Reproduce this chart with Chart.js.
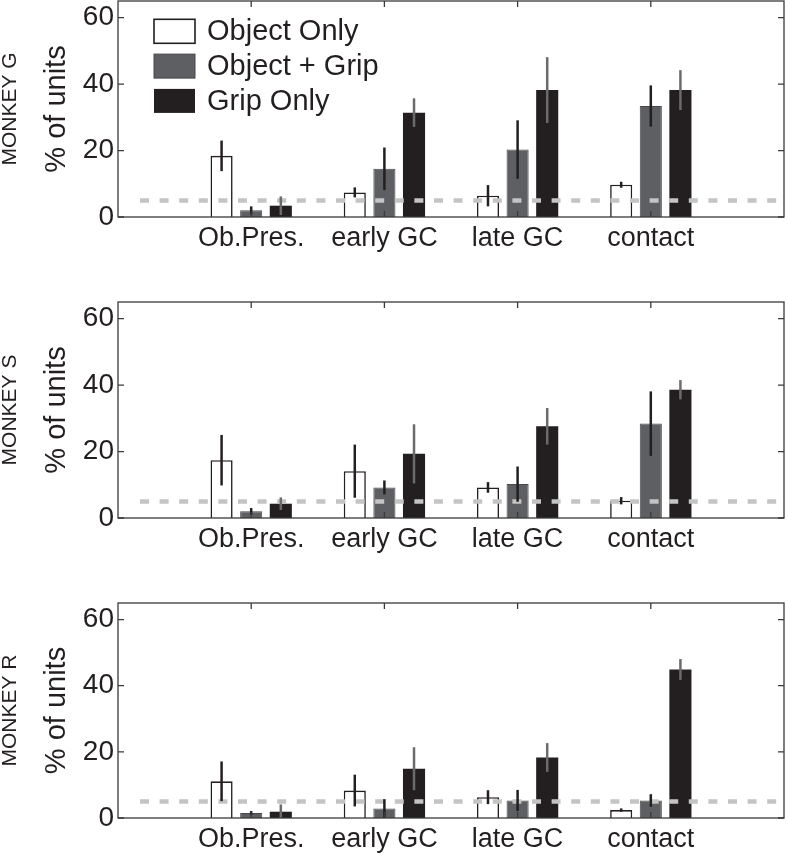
<!DOCTYPE html>
<html>
<head>
<meta charset="utf-8">
<script src="https://cdn.jsdelivr.net/npm/chart.js@4.4.0/dist/chart.umd.min.js"></script>
<style>
  body { margin: 0; background: #fff; width: 788px; height: 853px; overflow: hidden; position: relative; }
  canvas { position: absolute; left: 0; }
</style>
</head>
<body>
<canvas id="panelG" width="788" height="301" style="top:0px"></canvas>
<canvas id="panelS" width="788" height="301" style="top:301px"></canvas>
<canvas id="panelR" width="788" height="251" style="top:602px"></canvas>
<script>
// categories / series
const categories = ['Ob.Pres.', 'early GC', 'late GC', 'contact'];
const seriesNames = ['Object Only', 'Object + Grip', 'Grip Only'];
const yTicks = [0, 20, 40, 60];
const chanceLevel = 5;

// MONKEY G  (% of units, error = half length of bar)
const objectOnlyG = [18.4, 7.4, 6.4, 9.7];
const objectGripG = [2.0, 14.5, 20.3, 33.4];
const gripOnlyG   = [3.4, 31.4, 38.2, 38.2];
const objectOnlyErrG = [4.6, 1.5, 3.2, 0.9];
const objectGripErrG = [1.2, 6.4, 8.8, 6.2];
const gripOnlyErrG   = [2.8, 4.3, 9.9, 6.0];

// MONKEY S
const objectOnlyS = [17.4, 14.1, 9.2, 5.2];
const objectGripS = [2.0, 9.2, 10.2, 28.4];
const gripOnlyS   = [4.3, 19.3, 27.6, 38.6];
const objectOnlyErrS = [7.6, 8.0, 1.6, 1.1];
const objectGripErrS = [1.0, 2.1, 5.3, 9.7];
const gripOnlyErrS   = [1.9, 8.9, 5.5, 2.9];

// MONKEY R
const objectOnlyR = [11.1, 8.3, 6.3, 2.4];
const objectGripR = [1.5, 2.9, 5.3, 5.3];
const gripOnlyR   = [1.9, 14.9, 18.3, 44.9];
const objectOnlyErrR = [6.0, 4.8, 2.1, 0.5];
const objectGripErrR = [0.6, 2.8, 3.2, 1.9];
const gripOnlyErrR   = [2.2, 6.5, 4.35, 3.15];

// styles
const FONT = "'Liberation Sans', Arial, Helvetica, sans-serif";
const TEXT = '#231f20';
const fills = ['#ffffff', '#5e5f62', '#231f20'];
const strokes = ['#231f20', '#47484b', '#231f20'];
const borderW = [1.6, 1, 0];
const errColors = ['#231f20', '#231f20', '#6b6b6b'];

const panelExtras = {
    id: 'panelExtras',
    afterDatasetsDraw(chart, args, opts) {
        const { ctx, chartArea: a, scales: { x, y } } = chart;
        ctx.save();

        // chance level (dashed)
        const yc = y.getPixelForValue(chanceLevel);
        ctx.strokeStyle = '#c4c4c4';
        ctx.lineWidth = 4.5;
        ctx.setLineDash([9, 10.6]);
        ctx.beginPath();
        ctx.moveTo(a.left + 22, yc);
        ctx.lineTo(a.right - 7, yc);
        ctx.stroke();
        ctx.setLineDash([]);

        // error bars
        chart.data.datasets.forEach((ds, i) => {
            const meta = chart.getDatasetMeta(i);
            ctx.strokeStyle = errColors[i];
            ctx.lineWidth = 2.5;
            meta.data.forEach((bar, j) => {
                const v = ds.data[j], e = ds.errors[j];
                if (v == null) return;
                ctx.beginPath();
                ctx.moveTo(bar.x, y.getPixelForValue(Math.max(0, v - e)));
                ctx.lineTo(bar.x, y.getPixelForValue(v + e));
                ctx.stroke();
            });
        });

        // box + inward ticks
        ctx.strokeStyle = '#3a3a3a';
        ctx.lineWidth = 1.3;
        ctx.strokeRect(a.left, a.top, a.right - a.left, a.bottom - a.top);
        ctx.beginPath();
        yTicks.forEach(v => {
            const py = y.getPixelForValue(v);
            ctx.moveTo(a.left, py); ctx.lineTo(a.left + 6, py);
            ctx.moveTo(a.right, py); ctx.lineTo(a.right - 6, py);
        });
        categories.forEach((c, i) => {
            const px = x.getPixelForValue(i + 1);
            ctx.moveTo(px, a.top); ctx.lineTo(px, a.top + 6);
            ctx.moveTo(px, a.bottom); ctx.lineTo(px, a.bottom - 6);
        });
        ctx.stroke();

        // legend inside the first panel
        if (opts.legend) {
            const lx = a.left + 36, ly = a.top + 18.3, step = 34.8;
            ctx.font = '29px ' + FONT;
            ctx.textBaseline = 'middle';
            chart.data.datasets.forEach((ds, i) => {
                const top = ly + i * step;
                ctx.fillStyle = ds.backgroundColor;
                ctx.fillRect(lx, top, 41, 24);
                if (ds.borderWidth) {
                    ctx.strokeStyle = ds.borderColor;
                    ctx.lineWidth = ds.borderWidth;
                    ctx.strokeRect(lx, top, 41, 24);
                }
                ctx.fillStyle = TEXT;
                ctx.fillText(ds.label, lx + 53, top + 13);
            });
        }
        ctx.restore();
    }
};

function makePanel(id, monkey, vals, errs, plotHeight, withLegend) {
    const canvas = document.getElementById(id);
    const labels = ['', ...categories, ''];
    const datasets = seriesNames.map((name, i) => ({
        label: name,
        data: [null, ...vals[i], null],
        errors: [null, ...errs[i], null],
        backgroundColor: fills[i],
        borderColor: strokes[i],
        borderWidth: borderW[i],
        categoryPercentage: 0.667,
        barPercentage: 0.746
    }));
    return new Chart(canvas, {
        type: 'bar',
        data: { labels, datasets },
        plugins: [panelExtras],
        options: {
            responsive: false,
            animation: false,
            devicePixelRatio: 1,
            layout: { padding: { top: 1, right: 4, left: 0, bottom: 0 } },
            plugins: {
                legend: { display: false },
                tooltip: { enabled: false },
                title: {
                    display: true, text: monkey, position: 'left', fullSize: false,
                    font: { family: FONT, size: 21, weight: 'normal', lineHeight: 1 },
                    color: TEXT, padding: 0
                },
                panelExtras: { legend: withLegend }
            },
            scales: {
                x: {
                    type: 'category',
                    offset: false,
                    grid: { display: false, drawTicks: false },
                    border: { display: false },
                    ticks: {
                        autoSkip: false, maxRotation: 0, padding: 5,
                        font: { family: FONT, size: 27 }, color: TEXT
                    },
                    afterFit: s => {
                        s.height = canvas.height - 1 - plotHeight;
                        s.paddingLeft = 0; s.paddingRight = 0;
                    }
                },
                y: {
                    min: 0, max: 65,
                    grid: { display: false, drawTicks: false },
                    border: { display: false },
                    ticks: { padding: 4, font: { family: FONT, size: 28 }, color: TEXT },
                    afterBuildTicks: s => { s.ticks = yTicks.map(v => ({ value: v })); },
                    afterFit: s => {
                        s.width = 97;
                        s.paddingTop = 0; s.paddingBottom = 0;
                    },
                    title: {
                        display: true, text: '% of units',
                        font: { family: FONT, size: 29 }, color: TEXT,
                        padding: { top: 19, bottom: 0 }
                    }
                }
            }
        }
    });
}

makePanel('panelG', 'MONKEY G',
    [objectOnlyG, objectGripG, gripOnlyG], [objectOnlyErrG, objectGripErrG, gripOnlyErrG], 216, true);
makePanel('panelS', 'MONKEY S',
    [objectOnlyS, objectGripS, gripOnlyS], [objectOnlyErrS, objectGripErrS, gripOnlyErrS], 216, false);
makePanel('panelR', 'MONKEY R',
    [objectOnlyR, objectGripR, gripOnlyR], [objectOnlyErrR, objectGripErrR, gripOnlyErrR], 215, false);
</script>
</body>
</html>
